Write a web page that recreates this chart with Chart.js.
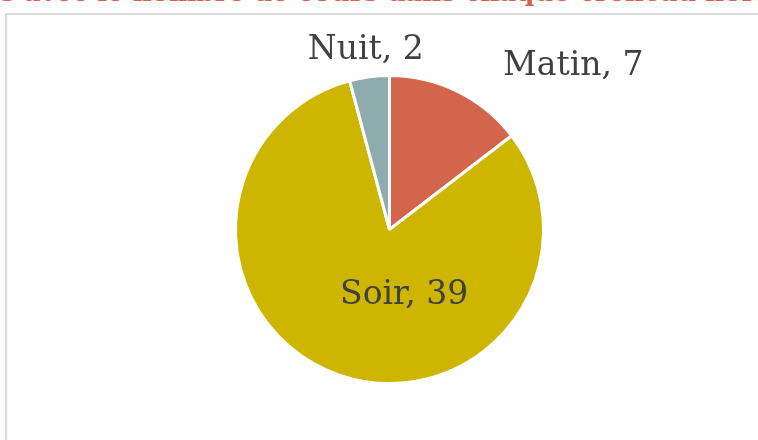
<!DOCTYPE html>
<html>
<head>
	<title>Cours par créneau horaire</title>
	<script src="https://cdn.jsdelivr.net/npm/chart.js@4.4.0/dist/chart.umd.min.js" type="text/javascript"></script>
	<style>
        html, body {
            margin: 0;
            padding: 0;
            width: 758px;
            height: 440px;
            overflow: hidden;
            background: white;
        }
        #title {
            position: absolute;
            top: -21px;
            left: 0;
            white-space: nowrap;
            font-family: "DejaVu Serif", serif;
            font-weight: bold;
            font-size: 26px;
            line-height: 26px;
            color: #d4634b;
        }
        #frame {
            position: absolute;
            left: 5px;
            top: 13px;
            width: 800px;
            height: 500px;
            border: 2px solid #d9d9d9;
        }
        #pie {
            position: absolute;
            left: 0;
            top: 0;
        }
    </style>
</head>
<body>
	<div id="title"><span id="pre">Répartition des cour</span>s avec le nombre de cours dans chaque créneau horaire</div>
	<div id="frame"></div>
	<canvas id="pie" width="758" height="440"></canvas>
</body>
<script>
	// donnees du graphique
	const creneaux = ['Matin', 'Soir', 'Nuit'];
	const nbCours = [7, 39, 2];
	const couleurs = ['#d2654c', '#cdb500', '#8eacad'];

	// recale le titre pour que seul le milieu soit visible
	document.getElementById('title').style.left = (-document.getElementById('pre').offsetWidth) + 'px';

	// etiquettes "Nom, valeur" placees autour du camembert (angle en degres depuis le haut, distance en rayons)
	const etiquettes = {
		id: 'etiquettes',
		afterDatasetsDraw(chart, args, opts) {
			const ctx = chart.ctx;
			const meta = chart.getDatasetMeta(0);
			ctx.save();
			ctx.font = opts.font;
			ctx.fillStyle = opts.color;
			ctx.textAlign = 'center';
			ctx.textBaseline = 'alphabetic';
			meta.data.forEach((arc, i) => {
				const p = opts.places[i];
				const a = p.angle * Math.PI / 180;
				const r = arc.outerRadius * p.dist;
				const x = arc.x + r * Math.sin(a);
				const y = arc.y - r * Math.cos(a);
				ctx.fillText(chart.data.labels[i] + ', ' + chart.data.datasets[0].data[i], x, y);
			});
			ctx.restore();
		}
	};

	const ctx = document.getElementById('pie');
	var chart = new Chart(ctx, {
		type: 'pie',
		data: {
			labels: creneaux,
			datasets: [{
				data: nbCours,
				backgroundColor: couleurs,
				borderColor: '#ffffff',
				borderWidth: 3
			}]
		},
		options: {
			responsive: false,
			animation: false,
			layout: {
				padding: { top: 74, bottom: 55, left: 21, right: 0 }
			},
			plugins: {
				legend: { display: false },
				tooltip: { enabled: false },
				etiquettes: {
					font: '33px "DejaVu Serif"',
					color: '#404040',
					places: [
						{ angle: 49.9, dist: 1.56 },
						{ angle: 168.8, dist: 0.49 },
						{ angle: -7.9, dist: 1.12 }
					]
				}
			}
		},
		plugins: [etiquettes]
	});
</script>
</html>
